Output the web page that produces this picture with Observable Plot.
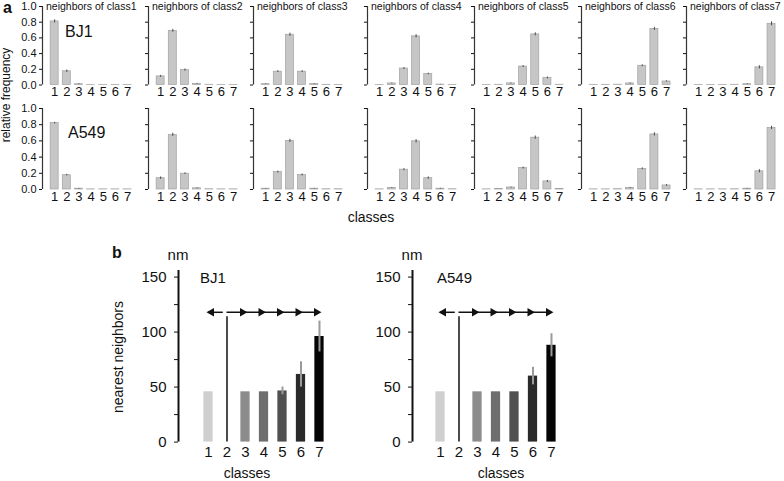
<!DOCTYPE html>
<html><head><meta charset="utf-8">
<script src="https://cdn.jsdelivr.net/npm/d3@7"></script>
<script src="https://cdn.jsdelivr.net/npm/@observablehq/plot@0.6"></script>
<style>
body{margin:0;background:#fff;}
#fig{position:relative;width:784px;height:481px;overflow:hidden;font-family:"Liberation Sans",Arial,sans-serif;color:#111;}
#fig svg{position:absolute;overflow:visible;background:none;}
.lbl{position:absolute;white-space:nowrap;line-height:1;}
</style></head><body><div id="fig"></div>
<script>
// ---------- data ----------
const classes = [1, 2, 3, 4, 5, 6, 7];
const cellLines = ["BJ1", "A549"];
const panelTitles = classes.map(c => "neighbors of class" + c);
const freqTicks = [0, 0.2, 0.4, 0.6, 0.8, 1.0];

// relative frequency of each neighbor class (columns) around a cell of class k (rows)
const freqBJ1 = [
  [0.81, 0.175, 0.010, 0.002, 0.002, 0.002, 0.002],
  [0.11, 0.69, 0.19, 0.015, 0.003, 0.002, 0.002],
  [0.010, 0.17, 0.64, 0.17, 0.012, 0.003, 0.002],
  [0.002, 0.020, 0.21, 0.62, 0.14, 0.005, 0.002],
  [0.002, 0.003, 0.020, 0.235, 0.645, 0.09, 0.003],
  [0.002, 0.003, 0.004, 0.020, 0.245, 0.715, 0.045],
  [0.002, 0.002, 0.002, 0.003, 0.010, 0.225, 0.78]
];
const errBJ1 = [
  [0.02, 0.015, 0.004, 0, 0, 0, 0],
  [0.012, 0.018, 0.014, 0.005, 0, 0, 0],
  [0.003, 0.012, 0.02, 0.012, 0.004, 0, 0],
  [0, 0.005, 0.012, 0.02, 0.01, 0.003, 0],
  [0, 0, 0.006, 0.012, 0.02, 0.012, 0],
  [0, 0, 0, 0.006, 0.012, 0.02, 0.008],
  [0, 0, 0, 0, 0.004, 0.02, 0.025]
];
const freqA549 = [
  [0.82, 0.177, 0.010, 0.002, 0.002, 0.002, 0.002],
  [0.14, 0.675, 0.195, 0.015, 0.003, 0.002, 0.002],
  [0.010, 0.215, 0.60, 0.18, 0.010, 0.003, 0.003],
  [0.002, 0.020, 0.245, 0.595, 0.14, 0.010, 0.003],
  [0.002, 0.005, 0.025, 0.265, 0.64, 0.10, 0.005],
  [0.002, 0.002, 0.004, 0.020, 0.255, 0.68, 0.05],
  [0.002, 0.002, 0.002, 0.003, 0.010, 0.225, 0.76]
];
const errA549 = [
  [0.01, 0.01, 0.004, 0, 0, 0, 0],
  [0.015, 0.02, 0.01, 0.005, 0, 0, 0],
  [0.003, 0.012, 0.02, 0.012, 0.004, 0, 0],
  [0, 0.005, 0.012, 0.02, 0.015, 0.004, 0],
  [0, 0, 0.006, 0.012, 0.02, 0.012, 0],
  [0, 0, 0, 0.006, 0.012, 0.02, 0.01],
  [0, 0, 0, 0, 0.004, 0.02, 0.02]
];

// nearest-neighbour distance (nm) per class; class 2 has no bar
const nnTicks = [0, 25, 50, 75, 100, 125, 150];
const nnBJ1 = [45.7, null, 45.7, 45.7, 46.5, 61.5, 96];
const nnErrBJ1 = [0, null, 0, 0, 3.5, 11.5, 14];
const nnA549 = [45.7, null, 45.7, 45.7, 45.7, 60, 88];
const nnErrA549 = [0, null, 0, 0, 0, 8, 10.5];
const arrowLevel = 118;   // nm, level of the arrow annotation
const dividerTop = 114;   // nm, top of the divider at class 2

// ---------- styles / layout ----------
const classGrays = ["#cfcfcf", "#ffffff", "#8c8c8c", "#6e6e6e", "#505050", "#2a2a2a", "#050505"];
const FONT = '"Liberation Sans", Arial, sans-serif';
const fig = document.getElementById("fig");

function place(el, left, top) {
  el.style.left = left + "px";
  el.style.top = top + "px";
  fig.appendChild(el);
}
function label(text, x, y, size, opts = {}) {
  const d = document.createElement("div");
  d.className = "lbl";
  d.textContent = text;
  d.style.fontSize = size + "px";
  if (opts.bold) d.style.fontWeight = "bold";
  const ax = opts.anchor === "start" ? "0" : "-50%";
  d.style.transform = `translate(${ax},-50%)`;
  if (opts.rotate) { d.style.transformOrigin = "0 0"; d.style.transform = "rotate(-90deg) translate(-50%,-50%)"; }
  place(d, x, y);
}

// top panel geometry
const panelAxisX = [42, 148, 253, 367, 474, 581, 686];
const TOP_M = 40;
const rowTop = [-4.5, 98];
const rowPx = [78.5, 81];

function topPanel(freqs, errs, k, row) {
  const data = classes.map((c, i) => ({cls: c, v: freqs[k][i], e: errs[k][i]}));
  const ph = rowPx[row];
  const svg = Plot.plot({
    width: TOP_M + 95, height: 10 + ph + 22,
    marginLeft: TOP_M, marginRight: 0, marginTop: 10, marginBottom: 22,
    style: {fontFamily: FONT, background: "transparent", color: "#111"},
    x: {domain: [0, 95 / 12.15]},
    y: {domain: [0, 1]},
    marks: [
      Plot.rect(data, {x1: d => d.cls - 0.33, x2: d => d.cls + 0.33, y1: () => 0, y2: "v",
        fill: "#c6c6c6", stroke: "#a2a2a2", strokeWidth: 0.7}),
      Plot.ruleX(data.filter(d => d.e > 0), {x: "cls", y1: d => d.v - d.e, y2: d => d.v + d.e,
        stroke: "#4a4a4a", strokeWidth: 1}),
      Plot.ruleX([0], {y1: () => 0, y2: () => 1, stroke: "#333", strokeWidth: 1.2}),
      Plot.axisY({ticks: freqTicks, tickSize: 3, tickPadding: 3, label: null, fontSize: 11,
        tickFormat: k === 0 ? d3.format(".1f") : () => ""}),
      Plot.axisX({ticks: classes, tickSize: 0, tickPadding: 2, label: null, fontSize: 13,
        tickFormat: d => String(d)})
    ]
  });
  place(svg, panelAxisX[k] - TOP_M, rowTop[row]);
}

const topFreqs = [freqBJ1, freqA549];
const topErrs = [errBJ1, errA549];
for (let r = 0; r < 2; r++) for (let k = 0; k < 7; k++) topPanel(topFreqs[r], topErrs[r], k, r);

panelTitles.forEach((t, k) => label(t, panelAxisX[k] + 4, 6, 10.5, {anchor: "start"}));
label("a", 3, 8, 16, {anchor: "start", bold: true});
label("BJ1", 65, 32, 16, {anchor: "start"});
label("A549", 68, 133, 16, {anchor: "start"});
label("relative frequency", 6, 95, 12, {rotate: true});
label("classes", 371, 217, 14);

// bottom panels
const BOT_M = 60, PPU = 18.5, YPX = 1.1, YMAX = 156;
function nnPanel(vals, errs, axisX, xMin) {
  const data = classes.map((c, i) => ({cls: c, v: vals[i], e: errs[i], col: classGrays[i]}))
    .filter(d => d.v != null);
  const w = (7.6 - xMin) * PPU;
  const ph = YMAX * YPX;
  const svg = Plot.plot({
    width: BOT_M + w + 5, height: 10 + ph + 40,
    marginLeft: BOT_M, marginRight: 5, marginTop: 10, marginBottom: 40,
    style: {fontFamily: FONT, background: "transparent", color: "#111"},
    x: {domain: [xMin, 7.6]},
    y: {domain: [0, YMAX]},
    color: {type: "identity"},
    marks: [
      Plot.rect(data, {x1: d => d.cls - 0.25, x2: d => d.cls + 0.25, y1: () => 0, y2: "v", fill: "col"}),
      Plot.ruleX(data.filter(d => d.e > 0), {x: "cls", y1: d => d.v - d.e, y2: d => d.v + d.e,
        stroke: "#9a9a9a", strokeWidth: 2}),
      Plot.ruleX([2], {y1: () => 0, y2: () => dividerTop, stroke: "#111", strokeWidth: 1.5}),
      Plot.ruleY([arrowLevel], {x1: () => 1, x2: () => 1.8, stroke: "#111", strokeWidth: 1.5}),
      Plot.ruleY([arrowLevel], {x1: () => 2, x2: () => 7, stroke: "#111", strokeWidth: 1.5}),
      Plot.dot([1], {x: d => d, y: () => arrowLevel, symbol: "triangle", rotate: -90, r: 3.2, fill: "#111", dx: 3}),
      Plot.dot(classes.slice(2), {x: d => d, y: () => arrowLevel, symbol: "triangle", rotate: 90, r: 3.2, fill: "#111", dx: -3}),
      Plot.ruleX([xMin], {y1: () => 0, y2: () => YMAX, stroke: "#111", strokeWidth: 2}),
      Plot.axisY({ticks: nnTicks, tickSize: 4, tickPadding: 8, label: null, fontSize: 15,
        tickFormat: d => d % 50 === 0 ? String(d) : ""}),
      Plot.axisX({ticks: classes, tickSize: 0, tickPadding: 4, label: null, fontSize: 15,
        tickFormat: d => String(d)})
    ]
  });
  place(svg, axisX - BOT_M, 442 - ph - 10);
}
nnPanel(nnBJ1, nnErrBJ1, 178, 1 - 30 / PPU);
nnPanel(nnA549, nnErrA549, 412, 1 - 28 / PPU);

label("b", 112, 253, 16, {anchor: "start", bold: true});
label("nm", 178, 254, 15);
label("nm", 412, 254, 15);
label("BJ1", 200, 277, 15, {anchor: "start"});
label("A549", 437, 277, 15, {anchor: "start"});
label("nearest neighbors", 118, 357, 14, {rotate: true});
label("classes", 247, 473, 14);
label("classes", 501, 473, 14);
</script></body></html>
